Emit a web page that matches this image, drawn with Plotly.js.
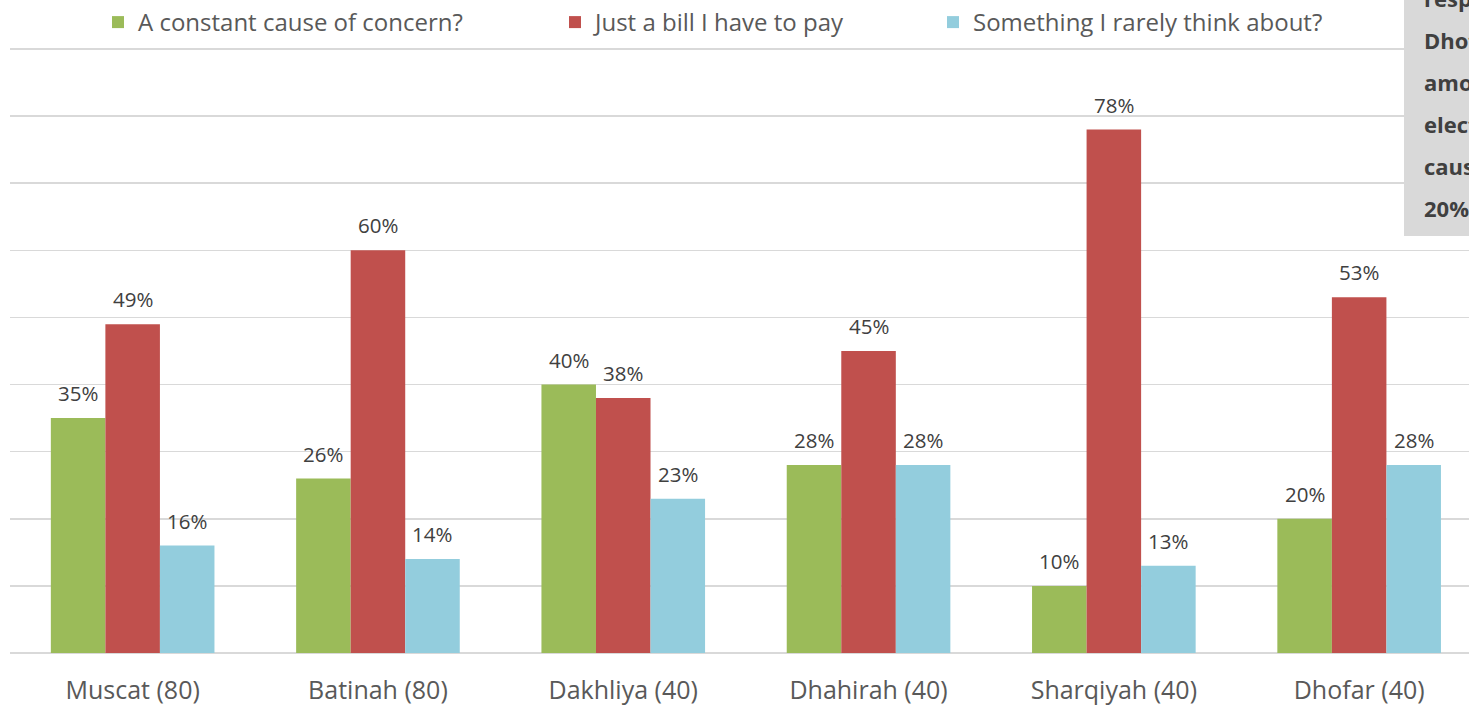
<!DOCTYPE html>
<html>
<head>
<meta charset="utf-8">
<script src="https://cdn.plot.ly/plotly-3.0.1.min.js"></script>
<style>html,body{margin:0;padding:0;background:#fff;}#chart{width:1469px;height:705px;}</style>
</head>
<body>
<div id="chart"></div>
<script>
const categories = ["Muscat (80)", "Batinah (80)", "Dakhliya (40)", "Dhahirah (40)", "Sharqiyah (40)", "Dhofar (40)"];
const seriesNames = ["A constant cause of concern?", "Just a bill I have to pay", "Something I rarely think about?"];
const concern = [0.35, 0.26, 0.40, 0.28, 0.10, 0.20];
const justBill = [0.49, 0.60, 0.38, 0.45, 0.78, 0.53];
const rarely = [0.16, 0.14, 0.23, 0.28, 0.13, 0.28];
const colors = ["#9BBB59", "#C0504D", "#93CDDD"];
const calloutLines = ["respondents", "Dhofar", "among", "electricity", "cause", "20%"];

const W = 1469, H = 705;
const mL = 10, mR = 0, mT = 47, mB = 52;
const plotW = W - mL - mR, plotH = H - mT - mB;
const px2x = p => (p - mL) / plotW;
const px2y = p => (H - mB - p) / plotH;

const font = "'Open Sans', sans-serif";
const seriesVals = [concern, justBill, rarely];
const legendIds = ["legend", "legend2", "legend3"];
const legendStarts = [98, 555, 933];
const bargap = 0.333;
const barW = (1 - bargap) / seriesVals.length;

const traces = seriesVals.map((vals, i) => ({
  type: "bar",
  name: seriesNames[i],
  x: categories,
  y: vals,
  marker: {color: colors[i], line: {width: 0}},
  legend: legendIds[i],
  hoverinfo: "skip"
}));

const labelAnnotations = [];
seriesVals.forEach((vals, j) => {
  vals.forEach((v, i) => {
    labelAnnotations.push({
      xref: "x", yref: "y",
      x: i + (j - (seriesVals.length - 1) / 2) * barW,
      y: v,
      yshift: 25,
      xanchor: "center", yanchor: "middle",
      text: Math.round(v * 100) + "%",
      showarrow: false,
      font: {family: font, size: 20.5, color: "#404040"}
    });
  });
});

const calloutAnnotations = calloutLines.map((t, i) => ({
  xref: "paper", yref: "paper",
  x: px2x(1422), y: px2y(-2 + 42 * i),
  xanchor: "left", yanchor: "middle",
  text: "<b>" + t + "</b>",
  showarrow: false,
  font: {family: font, size: 22, color: "#404040"}
}));

const layout = {
  width: W, height: H,
  margin: {l: mL, r: mR, t: mT, b: mB, pad: 0},
  paper_bgcolor: "#ffffff",
  plot_bgcolor: "#ffffff",
  barmode: "group",
  bargap: bargap,
  bargroupgap: 0,
  showlegend: true,
  xaxis: {
    range: [-0.5, -0.5 + plotW / 245.3],
    showgrid: false, zeroline: false, showline: false,
    ticks: "",
    tickfont: {family: font, size: 25, color: "#595959"},
    ticklabelstandoff: 20
  },
  yaxis: {
    range: [0, 0.903],
    dtick: 0.1,
    showticklabels: false,
    showgrid: true,
    gridcolor: "#D9D9D9",
    gridwidth: 1.5,
    zeroline: true,
    zerolinecolor: "#D9D9D9",
    zerolinewidth: 1.5,
    showline: false
  },
  shapes: [{
    type: "rect", xref: "paper", yref: "paper",
    x0: px2x(1404), x1: px2x(1560), y0: px2y(236), y1: px2y(-40),
    fillcolor: "#D9D9D9", line: {width: 0}, layer: "above"
  }],
  annotations: labelAnnotations.concat(calloutAnnotations)
};

legendIds.forEach((id, i) => {
  layout[id] = {
    orientation: "h",
    x: px2x(legendStarts[i]), xanchor: "left",
    y: px2y(22), yanchor: "middle",
    bgcolor: "rgba(0,0,0,0)",
    borderwidth: 0,
    font: {family: font, size: 24, color: "#595959"},
    itemclick: false, itemdoubleclick: false
  };
});

Plotly.newPlot("chart", traces, layout, {displayModeBar: false, staticPlot: true});
</script>
</body>
</html>
